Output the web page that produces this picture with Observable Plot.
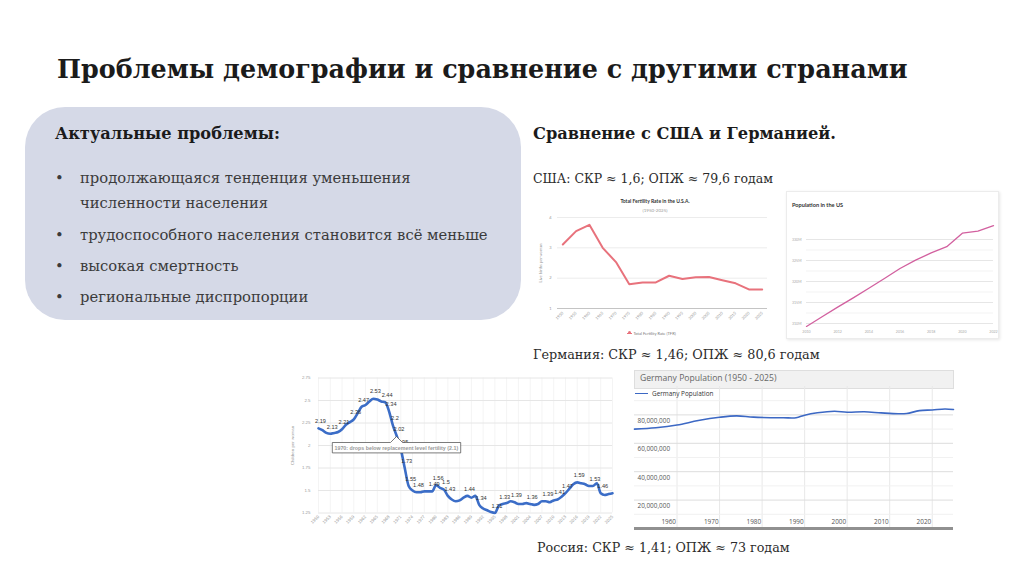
<!DOCTYPE html>
<html><head><meta charset="utf-8">
<script src="https://cdn.jsdelivr.net/npm/d3@7"></script>
<script src="https://cdn.jsdelivr.net/npm/@observablehq/plot@0.6"></script>
<style>
html,body{margin:0;padding:0;background:#fff;}
#slide{position:relative;width:1024px;height:574px;overflow:hidden;font-family:"DejaVu Serif",serif;color:#1b1b1b;}
.a{position:absolute;}
.t{position:absolute;white-space:nowrap;line-height:1.2;}
#box{left:25px;top:107px;width:496px;height:213px;border-radius:40px;background:#d5d9e7;}
.bul{color:#3b3b3b;}
.dot{color:#3b3b3b;}
.card{background:#fff;border:1px solid #ececec;box-shadow:1px 1px 3px rgba(0,0,0,0.10);}
svg{overflow:visible;}
</style></head><body>
<div id="slide">
  <div id="box" class="a"></div>
  <div class="t fit" id="title" data-x="57" data-cy="68" data-w="851" style="font-weight:bold;font-size:28px;">Проблемы демографии и сравнение с другими странами</div>
  <div class="t fit" id="h1" data-x="55" data-cy="133" data-w="225" style="font-weight:bold;font-size:20px;">Актуальные проблемы:</div>
  <div class="t fit" id="h2" data-x="533" data-cy="133" data-w="303" style="font-weight:bold;font-size:20px;">Сравнение с США и Германией.</div>
  <div class="t fit cap" data-x="533" data-cy="177" data-w="240" style="font-size:15px;color:#2b2b2b;">США: СКР ≈ 1,6; ОПЖ ≈ 79,6 годам</div>
  <div class="t fit cap" data-x="533" data-cy="354" data-w="287" style="font-size:15px;color:#2b2b2b;">Германия: СКР ≈ 1,46; ОПЖ ≈ 80,6 годам</div>
  <div class="t fit cap" data-x="537" data-cy="547" data-w="253" style="font-size:15px;color:#2b2b2b;">Россия: СКР ≈ 1,41; ОПЖ ≈ 73 годам</div>

  <div id="usTfr" class="a" style="left:535px;top:210px;"></div>
  <div class="t" style="left:600px;top:198px;width:110px;text-align:center;font:bold 5px Lato,sans-serif;color:#333;">Total Fertility Rate in the U.S.A.</div>
  <div class="t" style="left:600px;top:207.5px;width:110px;text-align:center;font:4.5px Lato,sans-serif;color:#999;">(1950-2025)</div>
  <div class="a" style="left:627px;top:332.5px;width:5px;height:1.2px;background:#e8727c;"></div>
  <div class="a" style="left:628.3px;top:331.3px;width:3px;height:3px;border-radius:50%;background:#e8727c;"></div>
  <div class="t" style="left:633.5px;top:330.5px;font:4px Lato,sans-serif;color:#777;">Total Fertility Rate (TFR)</div>

  <div class="a card" style="left:786px;top:191px;width:211px;height:146px;"></div>
  <div id="usPop" class="a" style="left:786px;top:215px;"></div>
  <div class="t" style="left:792px;top:200.5px;font:bold 5.6px Lato,sans-serif;color:#333;">Population in the US</div>

  <div class="a" style="left:634px;top:369.5px;width:318px;height:17px;background:#f1f1f1;border:1px solid #dedede;"></div>
  <div class="t" style="left:640px;top:372px;font:8.6px 'Open Sans',sans-serif;color:#666;">Germany Population (1950 - 2025)</div>
  <div id="dePop" class="a" style="left:632px;top:386px;"></div>
  <div class="a" style="left:635px;top:392.5px;width:13px;height:1.6px;background:#3c68c4;"></div>
  <div class="t" style="left:652px;top:388.5px;font:6.4px 'Open Sans',sans-serif;color:#333;">Germany Population</div>

  <div id="ruTfr" class="a" style="left:285px;top:372px;"></div>
</div>
<script>
// ---------- data ----------
const bulletLines = [
  ["продолжающаяся тенденция уменьшения", 177, true],
  ["численности населения", 202, false],
  ["трудоспособного населения становится всё меньше", 234, true],
  ["высокая смертность", 265, true],
  ["региональные диспропорции", 296, true]
];

const usTfrYears  = [1950,1955,1960,1965,1970,1975,1980,1985,1990,1995,2000,2005,2010,2015,2020,2025];
const usTfrValues = [3.11,3.55,3.76,3.00,2.53,1.80,1.86,1.86,2.08,1.97,2.03,2.04,1.93,1.83,1.63,1.63];
const usTfrYTicks = [1,2,3,4];

const usPopYears  = [2010,2011,2012,2013,2014,2015,2016,2017,2018,2019,2020,2021,2022];
const usPopValues = [309.3,311.6,313.9,316.1,318.4,320.7,323.1,325.1,326.8,328.3,331.5,332.0,333.3]; // millions
const usPopYTicks = [310,315,320,325,330];
const usPopXTicks = [2010,2012,2014,2016,2018,2020,2022];

const deYears  = [1950,1955,1960,1965,1970,1974,1978,1985,1988,1990,1993,1997,2000,2004,2008,2012,2014,2017,2020,2023,2025];
const dePop    = [70.0,71.0,72.9,76.0,78.3,79.3,78.4,78.0,78.0,79.8,81.5,82.6,81.9,82.2,81.4,80.8,81.0,83.0,83.5,84.2,83.8]; // millions
const deYTicks = [20000000,40000000,60000000,80000000];
const deXTicks = [1960,1970,1980,1990,2000,2010,2020];

const ruYears = [1950,1951,1952,1953,1954,1955,1956,1957,1958,1959,1960,1961,1962,1963,1964,1965,1966,1967,1968,1969,
  1970,1971,1972,1973,1974,1975,1976,1977,1978,1979,1980,1981,1982,1983,1984,1985,1986,1987,1988,1989,
  1990,1991,1992,1993,1994,1995,1996,1997,1998,1999,2000,2001,2002,2003,2004,2005,2006,2007,2008,2009,
  2010,2011,2012,2013,2014,2015,2016,2017,2018,2019,2020,2021,2022,2023,2024,2025];
const ruValues = [2.19,2.17,2.14,2.13,2.14,2.15,2.18,2.23,2.26,2.29,2.36,2.43,2.45,2.49,2.52,2.51,2.49,2.48,2.38,2.22,
  2.10,1.96,1.75,1.55,1.50,1.48,1.48,1.49,1.49,1.49,1.56,1.53,1.51,1.44,1.40,1.38,1.39,1.42,1.44,1.42,
  1.44,1.34,1.30,1.28,1.26,1.25,1.33,1.35,1.36,1.38,1.37,1.35,1.35,1.36,1.35,1.34,1.35,1.38,1.38,1.37,
  1.39,1.40,1.43,1.47,1.52,1.57,1.59,1.58,1.57,1.55,1.55,1.58,1.47,1.45,1.46,1.47];
const ruLabelYears = [1950,1953,1956,1959,1961,1964,1967,1968,1969,1970,1971,1972,1973,1975,1979,1980,1982,1983,1988,1991,1995,1997,2000,2004,2008,2011,2013,2016,2020,2022];
const ruLabelTexts = ["2.19","2.13","2.21","2.36","2.47","2.53","2.44","2.34","2.2","2.02","1.95","1.73","1.55","1.48","1.49","1.56","1.5","1.43","1.44","1.34","1.21","1.33","1.39","1.36","1.39","1.41","1.47","1.59","1.53","1.46"];
const ruYTicks = [1.25,1.5,1.75,2,2.25,2.5,2.75];
const ruXTicks = [1950,1953,1956,1959,1962,1965,1968,1971,1974,1977,1980,1983,1986,1989,1992,1995,1998,2001,2004,2007,2010,2013,2016,2019,2022,2025];
const ruNoteYear = 1970;
const ruNoteText = "1970: drops below replacement level fertility (2.1)";

// ---------- text layout ----------
const slide = document.getElementById("slide");
bulletLines.forEach(([txt, cy, bullet]) => {
  const d = document.createElement("div");
  d.className = "t bul"; d.textContent = txt; d.dataset.cy = cy; d.dataset.x = 80;
  d.style.fontSize = "16px"; slide.appendChild(d);
  if (bullet) {
    const b = document.createElement("div");
    b.className = "t dot"; b.textContent = "•"; b.dataset.cy = cy; b.dataset.x = 55;
    b.style.fontSize = "16px"; slide.appendChild(b);
  }
});
function layout() {
  document.querySelectorAll(".fit").forEach(el => {
    const w = el.getBoundingClientRect().width;
    const fs = parseFloat(el.style.fontSize);
    el.style.fontSize = (fs * (+el.dataset.w) / w) + "px";
  });
  const bl = [...document.querySelectorAll(".bul")];
  const k = 408 / bl[2].getBoundingClientRect().width;
  document.querySelectorAll(".bul,.dot").forEach(el => el.style.fontSize = (16 * k) + "px");
  document.querySelectorAll(".t[data-cy]").forEach(el => {
    const h = el.getBoundingClientRect().height;
    el.style.left = el.dataset.x + "px";
    el.style.top = (+el.dataset.cy - h / 2 + 1) + "px";
  });
}
layout();

// ---------- US TFR ----------
const usTfrData = usTfrYears.map((year, i) => ({year, value: usTfrValues[i]}));
document.getElementById("usTfr").appendChild(Plot.plot({
  width: 240, height: 125,
  marginLeft: 22, marginRight: 8, marginTop: 7, marginBottom: 27,
  style: {fontFamily: "Lato, sans-serif", fontSize: "4.5px", color: "#999", background: "transparent", overflow: "visible"},
  x: {domain: [1948, 2027]},
  y: {domain: [1, 4]},
  marks: [
    Plot.gridY(usTfrYTicks, {stroke: "#ececec", strokeOpacity: 1}),
    Plot.ruleY([1], {stroke: "#c4c4c4"}),
    Plot.axisY(usTfrYTicks, {tickSize: 0, tickPadding: 6, label: "Live births per woman", labelAnchor: "center", labelArrow: "none", labelOffset: 18, fontSize: 4}),
    Plot.axisX(usTfrYears, {tickSize: 0, tickRotate: -45, tickPadding: 4, tickFormat: d => String(d), label: null, fontSize: 4}),
    Plot.line(usTfrData, {x: "year", y: "value", stroke: "#e8727c", strokeWidth: 2})
  ]
}));

// ---------- US population ----------
const usPopData = usPopYears.map((year, i) => ({year, value: usPopValues[i]}));
document.getElementById("usPop").appendChild(Plot.plot({
  width: 212, height: 130,
  marginLeft: 20, marginRight: 5, marginTop: 24, marginBottom: 22,
  style: {fontFamily: "Lato, sans-serif", fontSize: "3.6px", color: "#aaa", background: "transparent", overflow: "visible"},
  x: {domain: [2010, 2022]},
  y: {domain: [310, 330]},
  marks: [
    Plot.gridY(d3.range(312.5, 331, 5), {stroke: "#f3f3f3", strokeOpacity: 1}),
    Plot.gridY(usPopYTicks, {stroke: "#e6e6e6", strokeOpacity: 1}),
    Plot.axisY(usPopYTicks, {tickSize: 0, tickPadding: 5, tickFormat: d => d + "M", label: null}),
    Plot.axisX(usPopXTicks, {tickSize: 0, tickPadding: 7, tickFormat: d => String(d), label: null}),
    Plot.line(usPopData, {x: "year", y: "value", stroke: "#d2609f", strokeWidth: 1.3})
  ]
}));

// ---------- Germany population ----------
const deData = deYears.map((year, i) => ({year, value: dePop[i] * 1e6}));
const fmt = d3.format(",");
document.getElementById("dePop").appendChild(Plot.plot({
  width: 323, height: 145,
  marginLeft: 2, marginRight: 2, marginTop: 0, marginBottom: 3,
  style: {fontFamily: "'Open Sans', sans-serif", fontSize: "6.4px", color: "#444", background: "transparent", overflow: "visible"},
  x: {domain: [1950, 2025], axis: null},
  y: {domain: [0, 100000000], axis: null},
  marks: [
    Plot.gridX(deXTicks, {stroke: "#e8e8e8", strokeOpacity: 1}),
    Plot.gridY(d3.range(10000000, 100000000, 20000000), {stroke: "#f1f1f1", strokeOpacity: 1}),
    Plot.gridY(deYTicks, {stroke: "#dddddd", strokeOpacity: 1}),
    Plot.ruleY([0], {stroke: "#909090", strokeWidth: 3}),
    Plot.text(deYTicks, {x: () => 1950, y: d => d, text: d => fmt(d), textAnchor: "start", dx: 3, dy: 6, fill: "#555"}),
    Plot.text(deXTicks, {x: d => d, y: () => 0, text: d => String(d), textAnchor: "end", dx: -1, dy: -7, fill: "#555"}),
    Plot.line(deData, {x: "year", y: "value", stroke: "#3c68c4", strokeWidth: 1.6, curve: "catmull-rom"})
  ]
}));

// ---------- Russia TFR ----------
const ruData = ruYears.map((year, i) => ({year, value: ruValues[i]}));
const ruVal = y => ruValues[ruYears.indexOf(y)];
const ruLabels = ruLabelYears.map((year, i) => ({year, value: ruVal(year), text: ruLabelTexts[i]}));
const ruNote = [{year: ruNoteYear, value: ruVal(ruNoteYear), text: ruNoteText}];
document.getElementById("ruTfr").appendChild(Plot.plot({
  width: 330, height: 163,
  marginLeft: 33, marginRight: 3, marginTop: 5.5, marginBottom: 22.5,
  style: {fontFamily: "'Liberation Sans', Arial, sans-serif", fontSize: "4.4px", color: "#999", background: "transparent", overflow: "visible"},
  x: {domain: [1950, 2025]},
  y: {domain: [1.25, 2.75]},
  marks: [
    Plot.ruleX(ruXTicks, {stroke: "#f4f4f4", strokeWidth: 1}),
    Plot.gridY(ruYTicks, {stroke: "#e6e6e6", strokeOpacity: 1}),
    Plot.axisY(ruYTicks, {tickSize: 0, tickPadding: 8, tickFormat: d => String(d), label: "Children per woman", labelAnchor: "center", labelArrow: "none", labelOffset: 28}),
    Plot.axisX(ruXTicks, {tickSize: 0, tickRotate: -45, tickPadding: 3, tickFormat: d => String(d), label: null}),
    Plot.line(ruData, {x: "year", y: "value", stroke: "#3b6dc7", strokeWidth: 2.6, curve: "monotone-x"}),
    Plot.text(ruLabels, {x: "year", y: "value", text: "text", dx: 2, dy: -7, fontSize: 5.6, fill: "#333"}),
    Plot.tip(ruNote, {x: "year", y: "value", title: "text", anchor: "top", fontSize: 5.3, fontWeight: "bold", textPadding: 2.2, lineHeight: 1, lineWidth: 100, pointerSize: 12, fill: "white", stroke: "#444", strokeWidth: 0.7, pathFilter: "none", textColor: "#222"})
  ]
}));
</script>
</body></html>
